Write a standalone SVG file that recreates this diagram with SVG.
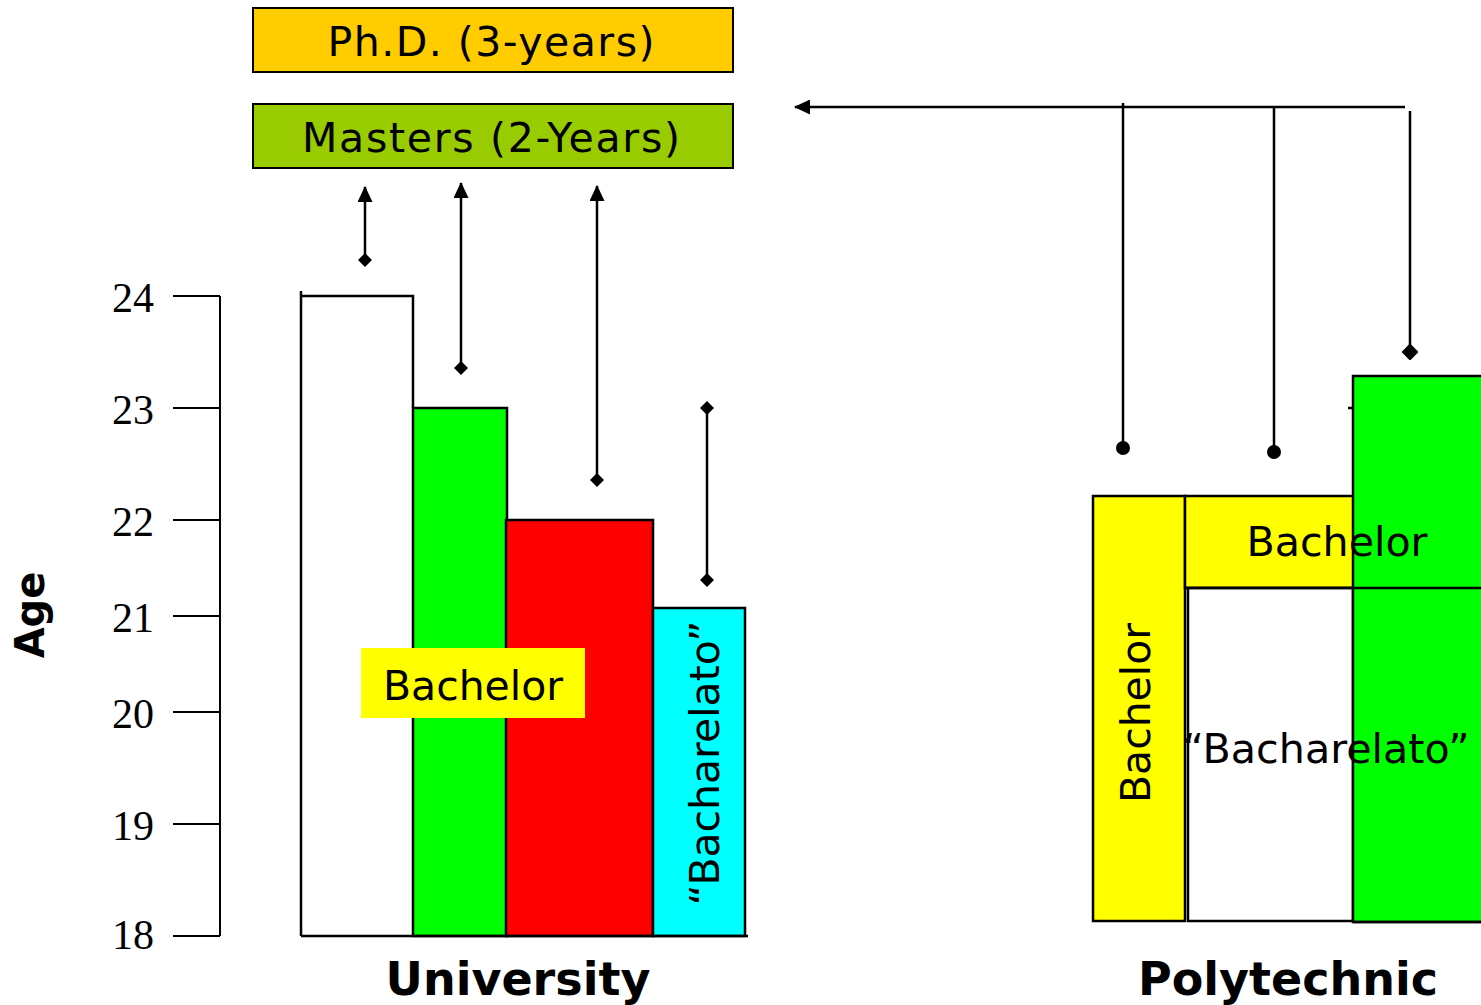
<svg xmlns="http://www.w3.org/2000/svg" width="1481" height="1005" viewBox="0 0 1481 1005">
<style>
.box{stroke:#000;stroke-width:2}
.bar{stroke:#000;stroke-width:2.5}
.lbl{font-family:"DejaVu Sans",Verdana,sans-serif;font-size:41px;fill:#000}
.big{font-family:"DejaVu Sans","Liberation Sans",sans-serif;font-weight:bold;fill:#000}
.num{font-family:"Liberation Serif","Times New Roman",serif;font-size:42px;fill:#000;text-anchor:end}
.ax{stroke:#000;stroke-width:2;fill:none}
.con{stroke:#000;stroke-width:2.5;fill:none}
</style>
<defs>
<marker id="arrow" markerUnits="userSpaceOnUse" viewBox="0 0 16 15" refX="15" refY="7.5" markerWidth="16" markerHeight="15" orient="auto"><path d="M0,0 L16,7.5 L0,15 z" fill="#000"/></marker>
<marker id="diamond" markerUnits="userSpaceOnUse" viewBox="0 0 14 14" refX="7" refY="7" markerWidth="14" markerHeight="14" orient="auto"><path d="M7,0 L14,7 L7,14 L0,7 z" fill="#000"/></marker>
<marker id="bigdiamond" markerUnits="userSpaceOnUse" viewBox="0 0 16 16" refX="8" refY="8" markerWidth="16" markerHeight="16"><path d="M8,0.5 L15.5,8 L8,15.5 L0.5,8 z" fill="#000" stroke="#000" stroke-width="1.5" stroke-linejoin="round"/></marker>
<marker id="dot" markerUnits="userSpaceOnUse" viewBox="0 0 14 14" refX="7" refY="7" markerWidth="14" markerHeight="14"><circle cx="7" cy="7" r="7" fill="#000"/></marker>
</defs>
<rect width="1481" height="1005" fill="#fff"/>

<g id="phd">
<rect class="box" x="253" y="8" width="480" height="64" fill="#FFCC00"/>
<text class="lbl" x="491" y="56" text-anchor="middle" font-size="38" textLength="327" lengthAdjust="spacing">Ph.D.  (3-years)</text>
</g>
<g id="masters">
<rect class="box" x="253" y="104" width="480" height="64" fill="#99CC00"/>
<text class="lbl" x="491" y="152" text-anchor="middle" font-size="38" textLength="378" lengthAdjust="spacing">Masters (2-Years)</text>
</g>

<g id="y-axis">
<path class="ax" d="M220,296 V936 M173,296 H220 M173,408 H220 M173,520 H220 M173,616 H220 M173,712 H220 M173,824 H220 M173,936 H220"/>
<text class="num" x="154" y="312">24</text>
<text class="num" x="154" y="424">23</text>
<text class="num" x="154" y="536">22</text>
<text class="num" x="154" y="632">21</text>
<text class="num" x="154" y="728">20</text>
<text class="num" x="154" y="840">19</text>
<text class="num" x="154" y="949">18</text>
<text class="big" font-size="40" transform="translate(44,615) rotate(-90)" text-anchor="middle">Age</text>
</g>

<g id="university">
<path class="bar" d="M301,291 V936 M301,296 H413 V408" fill="none"/>
<rect class="bar" x="413" y="408" width="94" height="528" fill="#00FF00"/>
<rect class="bar" x="506" y="520" width="147" height="416" fill="#FF0000"/>
<rect class="bar" x="653" y="608" width="92" height="328" fill="#00FFFF"/>
<path class="bar" d="M301,936 H748" fill="none"/>
<rect x="361" y="648" width="224" height="70" fill="#FFFF00"/>
<text class="lbl" x="473" y="700" text-anchor="middle" textLength="180" lengthAdjust="spacingAndGlyphs">Bachelor</text>
<text class="lbl" transform="translate(719,763) rotate(-90)" text-anchor="middle" textLength="285" lengthAdjust="spacingAndGlyphs">“Bacharelato”</text>
<text class="big" x="518" y="995" font-size="46" text-anchor="middle">University</text>
</g>

<g id="polytechnic">
<rect class="bar" x="1093" y="496" width="92" height="425" fill="#FFFF00"/>
<rect class="bar" x="1185" y="496" width="170" height="92" fill="#FFFF00"/>
<rect class="bar" x="1188" y="588" width="165" height="333" fill="#FFFFFF"/>
<path class="bar" d="M1348,408 H1353" fill="none"/>
<rect class="bar" x="1353" y="376" width="140" height="546" fill="#00FF00"/>
<path class="bar" d="M1185,588 H1481 M1353,922 H1481" fill="none"/>
<text class="lbl" x="1337" y="556" text-anchor="middle" textLength="181" lengthAdjust="spacingAndGlyphs">Bachelor</text>
<text class="lbl" transform="translate(1150,713) rotate(-90)" text-anchor="middle" textLength="180" lengthAdjust="spacingAndGlyphs">Bachelor</text>
<text class="lbl" x="1326" y="763" text-anchor="middle" textLength="287" lengthAdjust="spacingAndGlyphs">“Bacharelato”</text>
<text class="big" x="1288" y="995" font-size="46" text-anchor="middle">Polytechnic</text>
</g>

<g id="connectors">
<line class="con" x1="365" y1="260" x2="365" y2="187" marker-start="url(#diamond)" marker-end="url(#arrow)"/>
<line class="con" x1="461" y1="368" x2="461" y2="183" marker-start="url(#diamond)" marker-end="url(#arrow)"/>
<line class="con" x1="597" y1="480" x2="597" y2="186" marker-start="url(#diamond)" marker-end="url(#arrow)"/>
<line class="con" x1="707" y1="580" x2="707" y2="408" marker-start="url(#diamond)" marker-end="url(#diamond)"/>
<line class="con" x1="1405" y1="107" x2="795" y2="107" marker-end="url(#arrow)"/>
<line class="con" x1="1123" y1="103" x2="1123" y2="448" marker-end="url(#dot)"/>
<line class="con" x1="1274" y1="107" x2="1274" y2="452" marker-end="url(#dot)"/>
<line class="con" x1="1410" y1="111" x2="1410" y2="352" marker-end="url(#bigdiamond)"/>
</g>
</svg>
